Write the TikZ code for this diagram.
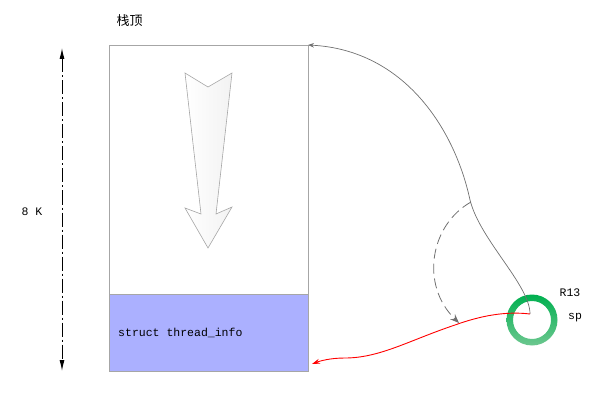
\documentclass[tikz,border=0pt]{standalone}
\usepackage{fontspec}
\setmainfont{Liberation Mono}
\newfontfamily\cjk{Noto Sans CJK SC}
\usetikzlibrary{positioning,arrows.meta}
\definecolor{boxgray}{HTML}{A6A6A6}
\definecolor{infoblue}{HTML}{ABB0FF}
\definecolor{ringgreen}{HTML}{00B050}
\definecolor{ringlight}{HTML}{6CC78F}
\definecolor{linkgray}{HTML}{707070}
\tikzset{
  stackbox/.style={draw=boxgray, line width=0.8pt, minimum width=199pt, inner sep=0pt, outer sep=0pt},
  lbl/.style={font=\fontsize{11.5}{12}\selectfont, inner sep=0pt},
  dimline/.style={line width=1pt, dash pattern=on 14pt off 3pt on 2pt off 3pt,
    arrows={Latex[length=11pt,width=5pt]-Latex[length=11pt,width=5pt]}},
  graylink/.style={draw=linkgray, line width=0.7pt, arrows={-Stealth[length=6pt,width=4.5pt]}},
  swinglink/.style={draw=linkgray, line width=0.8pt, dash pattern=on 10pt off 5pt,
    arrows={-Stealth[length=9pt,width=7pt,inset=3pt]}},
  redlink/.style={draw=red, line width=0.9pt, arrows={-Stealth[length=8pt,width=5pt]}},
  bigarrow/.style={draw=gray!70, line width=0.6pt, left color=white, right color=gray!10},
}
\begin{document}
\begin{tikzpicture}[x=1pt, y=-1pt]
    \useasboundingbox (0,0) rectangle (608,417);

    % the 8K kernel stack
    \node (stack) [stackbox, minimum height=249pt] at (208.5,169.5) {};
    \node (info) [stackbox, fill=infoblue, minimum height=77pt, below=0pt of stack] {};
    \node (infolabel) [lbl, right=9pt of info.west] {struct thread\_info};
    \node (toplabel) [inner sep=0pt, font=\cjk\fontsize{13}{13}\selectfont] at (129.5,21) {栈顶};

    % growth direction
    \draw[bigarrow] (185,73) -- (208,87) -- (232,73) -- (216,214) -- (232,207)
        -- (208,248) -- (185,208) -- (201,214) -- cycle;

    % size
    \coordinate (dimtop) at (62,48);
    \coordinate (dimbot) at (62,371);
    \draw[dimline] (dimtop) -- (dimbot);
    \node (size) [lbl] at (32,212) {8 K};

    % register
    \coordinate (reg) at (532,320);
    \path[top color=ringgreen, bottom color=ringlight, even odd rule]
        (reg) circle (25.5) (reg) circle (19);
    \coordinate (sp) at (530,314);
    \node (r13) [lbl] at (570,293) {R13};
    \node (splabel) [lbl] at (575,318) {sp};

    \coordinate (swing) at (471,202);
    \coordinate (swingend) at (459,323);

    \draw[graylink] (sp) .. controls (530,285) and (480,240) .. (470,200)
        .. controls (455,130) and (405,50) .. (stack.north east);
    \draw[swinglink] (swing) .. controls (430,225) and (420,285) .. (swingend);
    \draw[redlink] (sp) .. controls (505,311) and (480,316) .. (455,325)
        .. controls (410,340) and (380,358) .. (345,358)
        .. controls (330,358) and (320,361) .. ([xshift=4pt,yshift=7pt]info.south east);
\end{tikzpicture}
\end{document}
